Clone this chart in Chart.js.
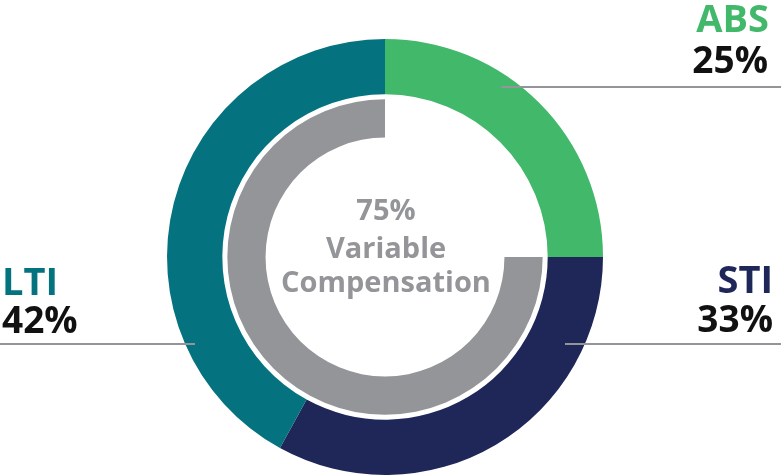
<!DOCTYPE html>
<html>
<head>
<meta charset="utf-8">
<script src="https://cdn.jsdelivr.net/npm/chart.js@4.4.1/dist/chart.umd.min.js"></script>
<style>
  html, body { margin: 0; padding: 0; background: #fff; }
  #wrap { position: relative; width: 781px; height: 476px; overflow: hidden; font-family: "Open Sans", sans-serif; font-weight: 700; }
  #chart { position: absolute; left: 0; top: 0; }
  .txt { position: absolute; line-height: 1; white-space: nowrap; }
  .right { text-align: right; }
  .center { width: 300px; left: 236px; text-align: center; color: #939598; font-size: 29px; }
  .rule { position: absolute; height: 2px; background: #939598; }
</style>
</head>
<body>
<div id="wrap">
  <canvas id="chart" width="781" height="476"></canvas>
  <div class="txt right" id="lbl-abs" style="right:12px; top:-2px; font-size:38px;"></div>
  <div class="txt right" id="val-abs" style="right:13px; top:40px; font-size:37px; color:#111;"></div>
  <div class="rule" style="left:501px; top:86px; width:280px;"></div>

  <div class="txt right" id="lbl-sti" style="right:8px; top:259px; font-size:38px;"></div>
  <div class="txt right" id="val-sti" style="right:8px; top:299px; font-size:37px; color:#111;"></div>
  <div class="rule" style="left:565px; top:343px; width:216px;"></div>

  <div class="txt" id="lbl-lti" style="left:2px; top:261px; font-size:38px;"></div>
  <div class="txt" id="val-lti" style="left:2px; top:300px; font-size:37px; color:#111;"></div>
  <div class="rule" style="left:0px; top:343px; width:195px;"></div>

  <div class="txt center" id="center-1" style="top:194px;"></div>
  <div class="txt center" id="center-2" style="top:232px;"></div>
  <div class="txt center" id="center-3" style="top:266px;"></div>
</div>
<script>
  const categories = ["ABS", "STI", "LTI"];
  const shares = [25, 33, 42];
  const categoryColors = ["#41b86a", "#1f2759", "#05737f"];

  const variableParts = ["Fixed", "Variable"];
  const variableShares = [25, 75];
  const variableColors = ["rgba(0,0,0,0)", "#939598"];

  const centerLines = [`${variableShares[1]}%`, "Variable", "Compensation"];

  categories.forEach((name, i) => {
    const key = name.toLowerCase();
    const lbl = document.getElementById(`lbl-${key}`);
    const val = document.getElementById(`val-${key}`);
    lbl.textContent = name;
    lbl.style.color = categoryColors[i];
    val.textContent = `${shares[i]}%`;
  });
  centerLines.forEach((line, i) => {
    document.getElementById(`center-${i + 1}`).textContent = line;
  });

  new Chart(document.getElementById("chart"), {
    type: "doughnut",
    data: {
      labels: categories,
      datasets: [
        {
          data: shares,
          backgroundColor: categoryColors,
          borderWidth: 0,
          weight: 55,
        },
        {
          // white gap between the rings
          data: [100],
          backgroundColor: ["rgba(0,0,0,0)"],
          borderWidth: 0,
          weight: 5,
        },
        {
          labels: variableParts,
          data: variableShares,
          backgroundColor: variableColors,
          borderWidth: 0,
          weight: 38,
        },
      ],
    },
    options: {
      responsive: false,
      animation: false,
      radius: 218,
      cutout: 120,
      layout: { padding: { top: 38, right: 11, bottom: 0, left: 0 } },
      plugins: {
        legend: { display: false },
        tooltip: { enabled: false },
      },
    },
  });
</script>
</body>
</html>
